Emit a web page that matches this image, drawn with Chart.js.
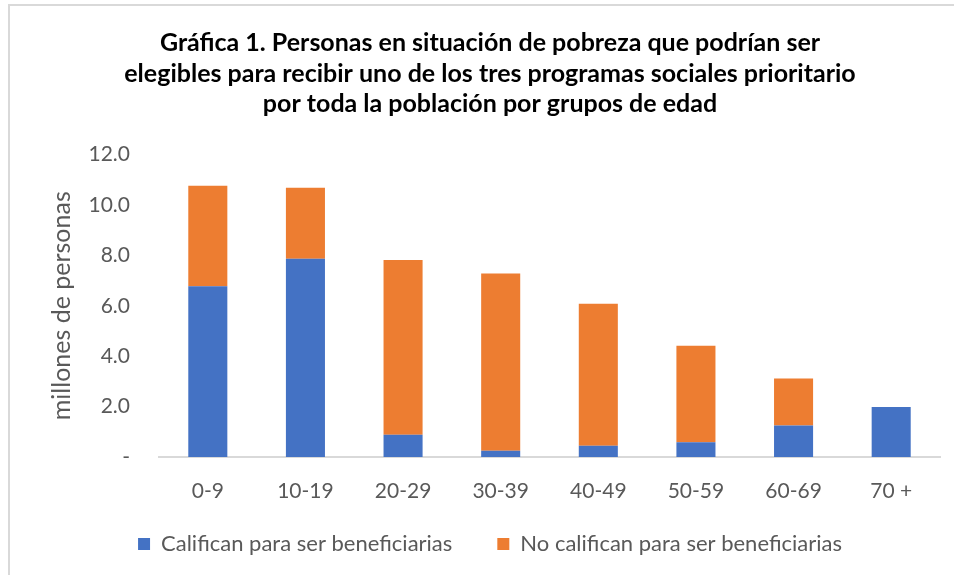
<!DOCTYPE html>
<html>
<head>
<meta charset="utf-8">
<script src="https://cdn.jsdelivr.net/npm/chart.js@4"></script>
<style>
    html, body { margin: 0; padding: 0; background: #fff; overflow: hidden; }
    #frame { position: absolute; left: 8px; top: 4px; width: 1000px; height: 700px;
             border-left: 2px solid #d9d9d9; border-top: 2px solid #d9d9d9; }
    #wrap { position: absolute; left: 0; top: 0; width: 954px; height: 575px; }
</style>
</head>
<body>
<div id="frame"></div>
<div id="wrap"><canvas id="pobreza"></canvas></div>
<script>
/* ── datos ── */
const grupos      = ['0-9', '10-19', '20-29', '30-39', '40-49', '50-59', '60-69', '70 +'];
const califican   = [6.77, 7.86, 0.88, 0.25, 0.45, 0.59, 1.25, 1.98];
const noCalifican = [3.99, 2.82, 6.93, 7.03, 5.63, 3.82, 1.86, 0];
const tituloLineas = [
    'Gráfica 1. Personas en situación de pobreza que podrían ser',
    'elegibles para recibir uno de los tres programas sociales prioritario',
    'por toda la población por grupos de edad'
];

const GRIS = '#595959';
const FONT = 'Lato, "Open Sans", sans-serif';

// legend padding also sets the gap between items; pull the box back up
const subirLeyenda = {
    id: 'subirLeyenda',
    afterLayout(chart) {
        if (!chart.legend) return;
        chart.legend.top -= 10;
        chart.legend.bottom -= 10;
    }
};

const ctx = document.getElementById('pobreza').getContext('2d');
new Chart(ctx, {
    type: 'bar',
    data: {
        labels: grupos,
        datasets: [
            { label: 'Califican para ser beneficiarias', data: califican,
              backgroundColor: '#4472C4', barPercentage: 0.4, categoryPercentage: 1 },
            { label: 'No califican para ser beneficiarias', data: noCalifican,
              backgroundColor: '#ED7D31', barPercentage: 0.4, categoryPercentage: 1 }
        ]
    },
    plugins: [subirLeyenda],
    options: {
        responsive: true,
        maintainAspectRatio: false,
        animation: false,
        layout: { padding: { left: 40, right: 14, top: 0, bottom: 0 } },
        plugins: {
            title: {
                display: true,
                text: tituloLineas,
                color: '#000',
                font: { family: FONT, size: 25, weight: 'bold', lineHeight: 1.22 },
                padding: { top: 28, bottom: 35 }
            },
            legend: {
                position: 'bottom',
                labels: {
                    color: GRIS,
                    boxWidth: 12,
                    boxHeight: 12,
                    padding: 45,
                    font: { family: FONT, size: 22 }
                }
            },
            tooltip: { enabled: false }
        },
        scales: {
            x: {
                stacked: true,
                afterFit(scale) { scale.height = 41; },
                grid: { display: false },
                border: { display: true, color: '#d9d9d9', width: 2 },
                ticks: { color: GRIS, padding: 14, font: { family: FONT, size: 21 } }
            },
            y: {
                stacked: true,
                min: 0,
                max: 12,
                afterFit(scale) { scale.width = 119; },
                grid: { display: false },
                border: { display: false },
                ticks: {
                    stepSize: 2,
                    color: GRIS,
                    padding: 21,
                    font: { family: FONT, size: 21 },
                    callback: v => v === 0 ? '-' : v.toFixed(1)
                },
                title: {
                    display: true,
                    text: 'millones de personas',
                    color: GRIS,
                    font: { family: FONT, size: 25 },
                    padding: { top: 7, bottom: 0 }
                }
            }
        }
    }
});
</script>
</body>
</html>
